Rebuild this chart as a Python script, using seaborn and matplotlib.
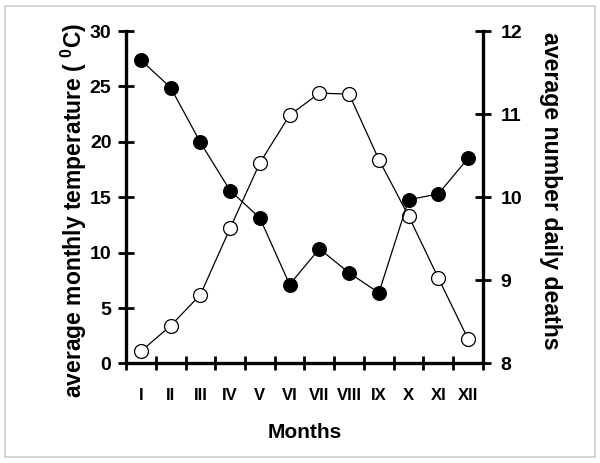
import matplotlib.pyplot as plt
import pandas as pd
import seaborn as sns
from matplotlib.patches import Rectangle

months = ['I', 'II', 'III', 'IV', 'V', 'VI', 'VII', 'VIII', 'IX', 'X', 'XI', 'XII']
temperature = [1.1, 3.4, 6.2, 12.2, 18.1, 22.4, 24.4, 24.3, 18.4, 13.3, 7.7, 2.2]
deaths = [11.65, 11.32, 10.66, 10.08, 9.75, 8.95, 9.38, 9.09, 8.85, 9.97, 10.04, 10.47]

sns.set_style('white')
plt.rcParams['font.family'] = ['Liberation Sans', 'DejaVu Sans']
plt.rcParams['font.weight'] = 'bold'
plt.rcParams['mathtext.fontset'] = 'custom'
plt.rcParams['mathtext.rm'] = 'Liberation Sans:bold'
plt.rcParams['mathtext.bf'] = 'Liberation Sans:bold'
for key in ('text.color', 'axes.labelcolor', 'xtick.color', 'ytick.color'):
    plt.rcParams[key] = 'black'

df = pd.DataFrame({'pos': [i + 0.5 for i in range(len(months))],
                   'temperature': temperature, 'deaths': deaths})

fig = plt.figure(figsize=(6, 4.63), dpi=100)
ax = fig.add_axes([0.21, 0.215, 0.595, 0.718])
ax2 = ax.twinx()

sns.lineplot(data=df, x='pos', y='temperature', ax=ax, color='black', lw=0.9,
             marker='o', markersize=10, markerfacecolor='white',
             markeredgecolor='black', markeredgewidth=0.9)
sns.lineplot(data=df, x='pos', y='deaths', ax=ax2, color='black', lw=0.9,
             marker='o', markersize=10, markerfacecolor='black',
             markeredgecolor='black')

ax.set_xlim(0, 12)
ax.set_ylim(0, 30)
ax2.set_ylim(8, 12)
ax.set_yticks(range(0, 31, 5))
ax2.set_yticks(range(8, 13))
ax.set_xticks(range(13))
ax.set_xticklabels([])
ax.set_xticks(df['pos'], months, minor=True)

for a in (ax, ax2):
    for s in a.spines.values():
        s.set_visible(False)
ax.spines['left'].set_visible(True)
ax.spines['bottom'].set_visible(True)
ax2.spines['right'].set_visible(True)
for s in (ax.spines['left'], ax.spines['bottom'], ax2.spines['right']):
    s.set_linewidth(2.4)
    s.set_color('black')

ax.tick_params(axis='y', which='major', direction='inout', length=11, width=2,
               labelsize=14, pad=5, left=True)
ax.tick_params(axis='x', which='major', direction='inout', length=10, width=2,
               bottom=True)
ax.tick_params(axis='x', which='minor', length=0, labelsize=12, pad=18)
ax2.tick_params(axis='y', direction='inout', length=11, width=2, labelsize=14,
                pad=7, right=True)

ax.set_xlabel('Months', fontsize=15, fontweight='bold', labelpad=14)
ax.set_ylabel(r'average monthly temperature ( $^{0}$C)', fontsize=16.5,
              fontweight='bold', va='center')
ax2.set_ylabel('average number daily deaths', fontsize=16.7, fontweight='bold',
               rotation=270, va='center')
ax.yaxis.set_label_coords(-0.146, 0.462)
ax2.yaxis.set_label_coords(1.188, 0.519)

fig.patches.append(Rectangle((0.009, 0.013), 0.982, 0.974, transform=fig.transFigure,
                             fill=False, edgecolor='#cccccc', lw=1.2))

fig.savefig('out.png', dpi=100)
